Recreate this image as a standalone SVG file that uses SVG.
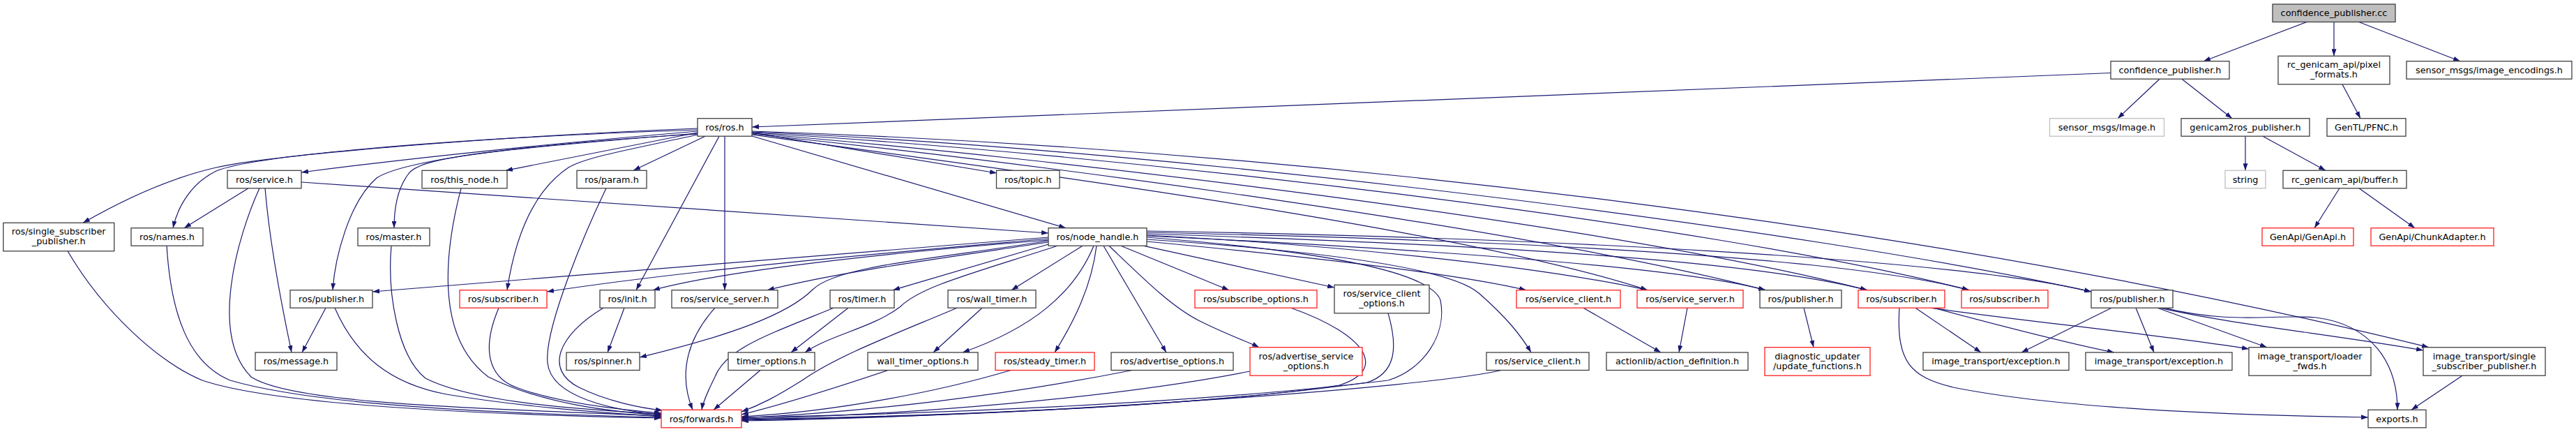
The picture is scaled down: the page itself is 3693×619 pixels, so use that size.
<svg xmlns="http://www.w3.org/2000/svg" width="3693" height="619" viewBox="0 0 3693 619">
<defs>
<style>
.n rect{fill:#fff;stroke:#404040;stroke-width:1.3}
.n.r rect{stroke:#ff2020}
.n.g rect{stroke:#bfbfbf}
.n.root rect{fill:#bfbfbf}
text{font-family:"DejaVu Sans","Liberation Sans",sans-serif;font-size:12.8px;text-anchor:middle;fill:#000}
#edges path{fill:none;stroke:#191970;stroke-width:1.2;marker-end:url(#a)}
</style>
<marker id="a" viewBox="0 0 10 7" refX="10" refY="3.5" markerWidth="10" markerHeight="7" markerUnits="userSpaceOnUse" orient="auto"><path d="M0,0L10,3.5L0,7z" fill="#191970"/></marker>
</defs>
<rect width="3693" height="619" fill="#fff"/>
<g id="edges">
<path d="M3308,31.2 L3159,87.7"/>
<path d="M3346,31.2 L3346,80.3"/>
<path d="M3381,31.2 L3527,87.7"/>
<path d="M3026,104.5 L1078,182"/>
<path d="M3096,113.2 L3036,169.7"/>
<path d="M3128,113.2 L3200,169.7"/>
<path d="M3358,120.8 L3384,169.7"/>
<path d="M3219,195.2 L3219,244.3"/>
<path d="M3244,195.2 L3334,244.3"/>
<path d="M3354,269.8 L3318,326.7"/>
<path d="M3382,269.8 L3462,326.7"/>
<path d="M1000,184 C700,196 390,222 310,240 C240,256 170,290 119,319.3"/>
<path d="M1000,186 C600,200 360,225 310,245 C275,262 255,295 248,326.7"/>
<path d="M1000,188 C800,205 600,225 432,247"/>
<path d="M1000,190 L725,244.3"/>
<path d="M1011,195.2 L908,244.3"/>
<path d="M1000,191 C700,215 600,225 585,250 C570,270 565,300 565,326.7"/>
<path d="M1000,192 C700,210 570,235 540,255 C500,290 480,370 477,415.7"/>
<path d="M1000,193 C900,215 840,225 815,240 C770,270 740,330 727,415.7"/>
<path d="M1031,195.2 L912,415.7"/>
<path d="M1039,195.2 L1039,415.7"/>
<path d="M1078,190 L1429,248"/>
<path d="M1078,195 L1528,326.7"/>
<path d="M1078,193 C1500,250 2100,330 2362,415.7"/>
<path d="M1078,192 C1500,235 2200,330 2531,415.7"/>
<path d="M1078,191 C1500,225 2300,320 2677,415.7"/>
<path d="M1078,190 C1600,220 2450,320 2823,415.7"/>
<path d="M1078,189 C1700,215 2600,330 2998,418"/>
<path d="M1078,188 C1900,215 2800,330 3482,497.7"/>
<path d="M356,269.8 L264,326.7"/>
<path d="M380,269.8 C385,330 400,420 418,505"/>
<path d="M372,269.8 C340,340 300,480 360,540 C420,580 700,585 948,596"/>
<path d="M432,261 L1503,334"/>
<path d="M661,269.8 C640,350 620,480 700,540 C780,580 880,590 948,595"/>
<path d="M869,269.8 C840,330 780,470 785,520 C790,570 880,588 948,594"/>
<path d="M239,352 C245,450 270,520 330,545 C450,580 700,592 948,598"/>
<path d="M97,359.8 C150,450 230,520 290,545 C400,582 700,594 948,599"/>
<path d="M561,352 C555,420 570,510 610,542 C680,578 850,588 948,593"/>
<path d="M480,441.2 C510,510 560,550 640,565 C760,585 880,592 948,597"/>
<path d="M467,441.2 L433,505"/>
<path d="M715,441.2 C690,500 700,540 740,555 C800,578 900,588 948,592"/>
<path d="M895,441.2 L871,505"/>
<path d="M865,441.2 C800,480 780,530 830,555 C870,575 920,585 950,588"/>
<path d="M1025,441.2 C990,480 970,530 993,587.3"/>
<path d="M1216,441.2 L1134,505"/>
<path d="M1195,441.2 C1100,480 1040,500 1025,540 C1015,560 1008,575 1006,587.3"/>
<path d="M1090,530.5 L1023,587.3"/>
<path d="M1516,352.2 C1400,390 1320,410 1290,440 C1250,470 1190,480 1154,505"/>
<path d="M1503,345 C1350,370 1200,380 1165,415 C1130,450 1050,480 917,512"/>
<path d="M1503,340 L534,418"/>
<path d="M1503,342 C1300,360 1000,385 784,418"/>
<path d="M1503,344 C1300,360 1050,385 936,415.7"/>
<path d="M1503,347 C1350,370 1200,390 1100,415.7"/>
<path d="M1503,350 L1280,415.7"/>
<path d="M1552,352.2 L1450,415.7"/>
<path d="M1568,352.2 C1540,420 1480,470 1380,505"/>
<path d="M1572,352.2 C1565,410 1540,460 1512,505"/>
<path d="M1582,352.2 L1672,505"/>
<path d="M1590,352.2 C1640,400 1680,440 1720,460 C1760,480 1790,490 1805,497.7"/>
<path d="M1607,352.2 L1762,415.7"/>
<path d="M1639,352.2 L1913,412"/>
<path d="M1644,340 C1900,360 2050,390 2065,430 C2075,480 2040,530 1990,545 C1700,580 1300,594 1063,598"/>
<path d="M1644,343 C1900,360 2080,385 2120,420 C2160,455 2180,480 2195,505"/>
<path d="M1644,346 C1900,370 2100,395 2188,415.7"/>
<path d="M1644,337 C1900,350 2200,380 2362,415.7"/>
<path d="M1644,338 C2000,355 2400,380 2531,415.7"/>
<path d="M1644,335 C2100,350 2500,370 2677,415.7"/>
<path d="M1644,333 C2200,345 2650,370 2823,415.7"/>
<path d="M1644,331 C2200,340 2800,370 2998,418"/>
<path d="M1408,441.2 L1338,505"/>
<path d="M1372,441.2 C1280,480 1200,510 1150,545 C1110,570 1090,580 1063,590"/>
<path d="M1273,530.5 C1200,555 1120,580 1063,594"/>
<path d="M1449,530.5 C1350,560 1200,590 1063,597"/>
<path d="M1623,530.5 C1450,565 1250,590 1063,599"/>
<path d="M1792,532 C1600,570 1300,595 1063,600"/>
<path d="M1851,441.2 C1960,480 1990,530 1920,552 C1700,585 1300,597 1063,601"/>
<path d="M1990,448.8 C2005,500 2000,535 1960,548 C1700,585 1300,598 1063,602"/>
<path d="M2152,530.5 C2050,555 1500,595 1063,603"/>
<path d="M2270,441.2 L2381,505"/>
<path d="M2419,441.2 L2407,505"/>
<path d="M2586,441.2 L2600,497.7"/>
<path d="M2723,441.2 C2718,520 2740,540 2800,555 C2950,585 3200,595 3395,598"/>
<path d="M2746,441.2 L2840,505"/>
<path d="M2772,441.2 C2880,470 2980,495 3031,505"/>
<path d="M2768,441.2 C2900,460 3100,480 3224,500"/>
<path d="M3027,441.2 L2898,505"/>
<path d="M3062,441.2 L3088,505"/>
<path d="M3093,441.2 L3250,497.7"/>
<path d="M3096,441.2 C3200,465 3350,480 3474,502"/>
<path d="M3102,441.2 C3200,465 3260,450 3320,455 C3400,465 3437,520 3437,587.3"/>
<path d="M3530,538.2 L3457,587.3"/>
</g>
<g id="n1" class="n root"><rect x="3258" y="6" width="176" height="25.5"/><text x="3346" y="23.3">confidence_publisher.cc</text></g>
<g id="n2" class="n"><rect x="3026" y="87.7" width="170" height="25.5"/><text x="3111" y="105">confidence_publisher.h</text></g>
<g id="n3" class="n"><rect x="3266" y="80.3" width="160" height="40.5"/><text x="3346" y="97.2">rc_genicam_api/pixel</text><text x="3346" y="111.2">_formats.h</text></g>
<g id="n4" class="n"><rect x="3450" y="87.7" width="237" height="25.5"/><text x="3568.5" y="105">sensor_msgs/image_encodings.h</text></g>
<g id="n5" class="n"><rect x="1000" y="169.7" width="78" height="25.5"/><text x="1039" y="187">ros/ros.h</text></g>
<g id="n6" class="n g"><rect x="2938.5" y="169.7" width="164" height="25.5"/><text x="3020.5" y="187">sensor_msgs/Image.h</text></g>
<g id="n7" class="n"><rect x="3127" y="169.7" width="184" height="25.5"/><text x="3219" y="187">genicam2ros_publisher.h</text></g>
<g id="n8" class="n"><rect x="3336" y="169.7" width="113" height="25.5"/><text x="3392.5" y="187">GenTL/PFNC.h</text></g>
<g id="n9" class="n g"><rect x="3190" y="244.3" width="58" height="25.5"/><text x="3219" y="261.6">string</text></g>
<g id="n10" class="n"><rect x="3273" y="244.3" width="177" height="25.5"/><text x="3361.5" y="261.6">rc_genicam_api/buffer.h</text></g>
<g id="n11" class="n r"><rect x="3243" y="326.7" width="131" height="25.5"/><text x="3308.5" y="344">GenApi/GenApi.h</text></g>
<g id="n12" class="n r"><rect x="3399" y="326.7" width="176" height="25.5"/><text x="3487" y="344">GenApi/ChunkAdapter.h</text></g>
<g id="n13" class="n"><rect x="326" y="244.3" width="106" height="25.5"/><text x="379" y="261.6">ros/service.h</text></g>
<g id="n14" class="n"><rect x="605" y="244.3" width="122" height="25.5"/><text x="666" y="261.6">ros/this_node.h</text></g>
<g id="n15" class="n"><rect x="827" y="244.3" width="100" height="25.5"/><text x="877" y="261.6">ros/param.h</text></g>
<g id="n16" class="n"><rect x="1428.5" y="244.3" width="90.5" height="25.5"/><text x="1473.8" y="261.6">ros/topic.h</text></g>
<g id="n17" class="n"><rect x="4.7" y="319.3" width="159" height="40.5"/><text x="84.2" y="336.2">ros/single_subscriber</text><text x="84.2" y="350.2">_publisher.h</text></g>
<g id="n18" class="n"><rect x="188" y="326.7" width="103" height="25.5"/><text x="239.5" y="344">ros/names.h</text></g>
<g id="n19" class="n"><rect x="513" y="326.7" width="103" height="25.5"/><text x="564.5" y="344">ros/master.h</text></g>
<g id="n20" class="n"><rect x="1503" y="326.7" width="141" height="25.5"/><text x="1573.5" y="344">ros/node_handle.h</text></g>
<g id="n21" class="n"><rect x="416" y="415.7" width="118" height="25.5"/><text x="475" y="433">ros/publisher.h</text></g>
<g id="n22" class="n r"><rect x="659" y="415.7" width="125" height="25.5"/><text x="721.5" y="433">ros/subscriber.h</text></g>
<g id="n23" class="n"><rect x="860" y="415.7" width="79" height="25.5"/><text x="899.5" y="433">ros/init.h</text></g>
<g id="n24" class="n"><rect x="963" y="415.7" width="152" height="25.5"/><text x="1039" y="433">ros/service_server.h</text></g>
<g id="n25" class="n"><rect x="1190" y="415.7" width="92" height="25.5"/><text x="1236" y="433">ros/timer.h</text></g>
<g id="n26" class="n"><rect x="1359" y="415.7" width="126" height="25.5"/><text x="1422" y="433">ros/wall_timer.h</text></g>
<g id="n27" class="n r"><rect x="1713" y="415.7" width="175" height="25.5"/><text x="1800.5" y="433">ros/subscribe_options.h</text></g>
<g id="n28" class="n"><rect x="1913" y="408.3" width="136" height="40.5"/><text x="1981" y="425.2">ros/service_client</text><text x="1981" y="439.2">_options.h</text></g>
<g id="n29" class="n r"><rect x="2174" y="415.7" width="149" height="25.5"/><text x="2248.5" y="433">ros/service_client.h</text></g>
<g id="n30" class="n r"><rect x="2347" y="415.7" width="152" height="25.5"/><text x="2423" y="433">ros/service_server.h</text></g>
<g id="n31" class="n"><rect x="2523" y="415.7" width="117" height="25.5"/><text x="2581.5" y="433">ros/publisher.h</text></g>
<g id="n32" class="n r"><rect x="2664" y="415.7" width="124" height="25.5"/><text x="2726" y="433">ros/subscriber.h</text></g>
<g id="n33" class="n r"><rect x="2812" y="415.7" width="124" height="25.5"/><text x="2874" y="433">ros/subscriber.h</text></g>
<g id="n34" class="n"><rect x="2998" y="415.7" width="117" height="25.5"/><text x="3056.5" y="433">ros/publisher.h</text></g>
<g id="n35" class="n"><rect x="366" y="505" width="117" height="25.5"/><text x="424.5" y="522.3">ros/message.h</text></g>
<g id="n36" class="n"><rect x="812" y="505" width="105" height="25.5"/><text x="864.5" y="522.3">ros/spinner.h</text></g>
<g id="n37" class="n"><rect x="1044" y="505" width="124" height="25.5"/><text x="1106" y="522.3">timer_options.h</text></g>
<g id="n38" class="n"><rect x="1244" y="505" width="158" height="25.5"/><text x="1323" y="522.3">wall_timer_options.h</text></g>
<g id="n39" class="n r"><rect x="1427" y="505" width="142" height="25.5"/><text x="1498" y="522.3">ros/steady_timer.h</text></g>
<g id="n40" class="n"><rect x="1593" y="505" width="175" height="25.5"/><text x="1680.5" y="522.3">ros/advertise_options.h</text></g>
<g id="n41" class="n r"><rect x="1792" y="497.7" width="161" height="40.5"/><text x="1872.5" y="514.6">ros/advertise_service</text><text x="1872.5" y="528.6">_options.h</text></g>
<g id="n42" class="n"><rect x="2131" y="505" width="147" height="25.5"/><text x="2204.5" y="522.3">ros/service_client.h</text></g>
<g id="n43" class="n"><rect x="2303" y="505" width="203" height="25.5"/><text x="2404.5" y="522.3">actionlib/action_definition.h</text></g>
<g id="n44" class="n r"><rect x="2530" y="497.7" width="151" height="40.5"/><text x="2605.5" y="514.6">diagnostic_updater</text><text x="2605.5" y="528.6">/update_functions.h</text></g>
<g id="n45" class="n"><rect x="2757" y="505" width="209" height="25.5"/><text x="2861.5" y="522.3">image_transport/exception.h</text></g>
<g id="n46" class="n"><rect x="2990" y="505" width="210" height="25.5"/><text x="3095" y="522.3">image_transport/exception.h</text></g>
<g id="n47" class="n"><rect x="3224" y="497.7" width="175" height="40.5"/><text x="3311.5" y="514.6">image_transport/loader</text><text x="3311.5" y="528.6">_fwds.h</text></g>
<g id="n48" class="n"><rect x="3474" y="497.7" width="175" height="40.5"/><text x="3561.5" y="514.6">image_transport/single</text><text x="3561.5" y="528.6">_subscriber_publisher.h</text></g>
<g id="n49" class="n"><rect x="3395" y="587.3" width="83" height="25.5"/><text x="3436.5" y="604.6">exports.h</text></g>
<g id="n50" class="n r"><rect x="948" y="587.3" width="115" height="25.5"/><text x="1005.5" y="604.6">ros/forwards.h</text></g>
</svg>
